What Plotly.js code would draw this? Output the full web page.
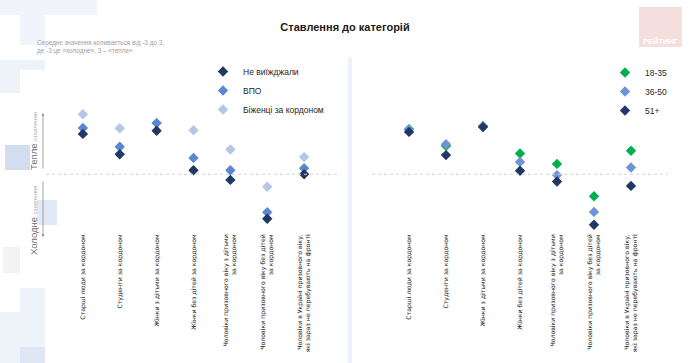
<!DOCTYPE html>
<html>
<head>
<meta charset="utf-8">
<script src="https://cdn.plot.ly/plotly-3.0.1.min.js"></script>
<style>html,body{margin:0;padding:0;background:#fff;}#chart{width:690px;height:363px;}</style>
</head>
<body>
<div id="chart"></div>
<script>
// ---- data ----
const categories = [
  "Старші люди за кордоном",
  "Студенти за кордоном",
  "Жінки з дітьми за кордоном",
  "Жінки без дітей за кордоном",
  "Чоловіки призовного віку з дітьми<br>за кордоном",
  "Чоловіки призовного віку без дітей<br>за кордоном",
  "Чоловіки в Україні призовного віку,<br>які зараз не перебувають на фронті"
];
const notLeft   = [1.01, 0.50, 1.09, 0.10, -0.14, -1.11, 0.00];
const idp       = [1.16, 0.69, 1.28, 0.41, 0.10, -0.95, 0.15];
const refugees  = [1.50, 1.15, 1.28, 1.10, 0.62, -0.31, 0.43];
const age18_35  = [1.13, 0.71, 1.20, 0.52, 0.26, -0.55, 0.59];
const age36_50  = [1.12, 0.75, 1.20, 0.31, -0.02, -0.94, 0.17];
const age51     = [1.06, 0.48, 1.18, 0.09, -0.18, -1.26, -0.29];
const idx = categories.map((_, i) => i);

// ---- geometry helpers (pixel -> paper) ----
const W = 690, H = 363, T = 62, B = 131, PH = H - T - B;
const px = x => x / W;
const py = y => (H - B - y) / PH;

const mk = (c) => ({symbol: 'diamond', size: 8, color: c});
const traces = [
  {x: idx, y: refugees, name: 'Біженці за кордоном', type: 'scatter', mode: 'markers', marker: mk('#b4c7e7'), xaxis: 'x', yaxis: 'y', legend: 'legend', legendrank: 3},
  {x: idx, y: idp, name: 'ВПО', type: 'scatter', mode: 'markers', marker: mk('#5b87d2'), xaxis: 'x', yaxis: 'y', legend: 'legend', legendrank: 2},
  {x: idx, y: notLeft, name: 'Не виїжджали', type: 'scatter', mode: 'markers', marker: mk('#1f3864'), xaxis: 'x', yaxis: 'y', legend: 'legend', legendrank: 1},
  {x: idx, y: age18_35, name: '18-35', type: 'scatter', mode: 'markers', marker: mk('#00b050'), xaxis: 'x2', yaxis: 'y2', legend: 'legend2', legendrank: 1},
  {x: idx, y: age36_50, name: '36-50', type: 'scatter', mode: 'markers', marker: mk('#6e94d8'), xaxis: 'x2', yaxis: 'y2', legend: 'legend2', legendrank: 2},
  {x: idx, y: age51, name: '51+', type: 'scatter', mode: 'markers', marker: mk('#1f3864'), xaxis: 'x2', yaxis: 'y2', legend: 'legend2', legendrank: 3}
];

const yRange = [-(H - B - 174.3) / 40, (174.3 - T) / 40];
const xaxisBase = {
  range: [-1, 7], tickmode: 'array', tickvals: idx, ticktext: categories,
  tickangle: -90, showgrid: false, zeroline: false, showline: false, ticks: '',
  tickfont: {family: 'DejaVu Sans, sans-serif', size: 6.2, color: '#222'}, fixedrange: true
};
const yaxisBase = {range: yRange, showgrid: false, zeroline: false, showline: false, showticklabels: false, ticks: '', fixedrange: true};

const rect = (x0, y0, x1, y1, c) => ({type: 'rect', xref: 'paper', yref: 'paper', x0: px(x0), x1: px(x1), y0: py(y1), y1: py(y0), fillcolor: c, line: {width: 0}, layer: 'below'});

const shapes = [
  rect(0, 0, 97, 15, '#f1f4fa'),
  rect(20, 15, 45, 45, '#f1f4fa'),
  rect(0, 60, 45, 70, '#eef2f9'),
  rect(0, 70, 20, 93, '#eef2f9'),
  rect(5, 145, 30, 170, '#d3ddf0'),
  rect(37, 200, 57, 225, '#e2e8f5'),
  rect(3, 247, 20, 273, '#f3f3f3'),
  rect(20, 288, 45, 347, '#eef2f9'),
  rect(0, 312, 20, 363, '#eef2f9'),
  rect(20, 347, 45, 363, '#dfe6f4'),
  rect(348, 57, 352, 363, '#edf1f9'),
  rect(639, 7, 682, 47, '#f4dede'),
  {type: 'line', xref: 'x domain', yref: 'y', x0: 0, x1: 1, y0: 0, y1: 0, line: {color: '#d0d0d0', width: 1, dash: 'dot'}},
  {type: 'line', xref: 'x2 domain', yref: 'y2', x0: 0, x1: 1, y0: 0, y1: 0, line: {color: '#d0d0d0', width: 1, dash: 'dot'}}
];

const annotations = [
  {xref: 'paper', yref: 'paper', x: px(35), y: py(46.5), xanchor: 'left', yanchor: 'middle', align: 'left', showarrow: false,
   text: 'Середнє значення коливається від -3 до 3,<br>де -3 це «холодне», 3 – «тепле»',
   font: {family: 'Liberation Sans, Arial, sans-serif', size: 6.4, color: '#a0a0a0'}},
  {xref: 'paper', yref: 'paper', x: px(660.5), y: py(41), xanchor: 'center', yanchor: 'middle', showarrow: false,
   text: '<b>РЕЙТИНГ</b>', font: {family: 'Liberation Sans, Arial, sans-serif', size: 7.5, color: '#ffffff'}},
  // axis arrows
  {xref: 'paper', yref: 'paper', x: px(43), y: py(113), ax: px(43), ay: py(170), axref: 'paper', ayref: 'paper', text: '', showarrow: true,
   arrowhead: 2, arrowsize: 0.7, arrowwidth: 0.8, arrowcolor: '#8c8c8c', standoff: 0},
  {xref: 'paper', yref: 'paper', x: px(43), y: py(237), ax: px(43), ay: py(180), axref: 'paper', ayref: 'paper', text: '', showarrow: true,
   arrowhead: 2, arrowsize: 0.7, arrowwidth: 0.8, arrowcolor: '#8c8c8c', standoff: 0},
  {xref: 'paper', yref: 'paper', x: px(33), y: py(141), xanchor: 'center', yanchor: 'middle', textangle: -90, showarrow: false,
   text: 'Тепле <span style="font-size:6px;color:#b0b0b0">ставлення</span>',
   font: {family: 'Liberation Sans, Arial, sans-serif', size: 9.5, color: '#707070'}},
  {xref: 'paper', yref: 'paper', x: px(33), y: py(220), xanchor: 'center', yanchor: 'middle', textangle: -90, showarrow: false,
   text: 'Холодне <span style="font-size:6px;color:#b0b0b0">ставлення</span>',
   font: {family: 'Liberation Sans, Arial, sans-serif', size: 9.5, color: '#707070'}}
];

const legendFont = {family: 'Liberation Sans, Arial, sans-serif', size: 8.5, color: '#262626'};
const layout = {
  width: W, height: H,
  margin: {l: 0, r: 0, t: T, b: B, pad: 0},
  paper_bgcolor: '#ffffff', plot_bgcolor: 'rgba(0,0,0,0)',
  title: {text: '<b>Ставлення до категорій</b>', x: 0.5, xanchor: 'center', y: 1 - 27 / H, yanchor: 'middle', yref: 'container',
          font: {family: 'Liberation Sans, Arial, sans-serif', size: 11, color: '#1a1a1a'}},
  xaxis: Object.assign({}, xaxisBase, {domain: [px(46), px(341)], anchor: 'y'}),
  yaxis: Object.assign({}, yaxisBase, {anchor: 'x'}),
  xaxis2: Object.assign({}, xaxisBase, {domain: [px(372), px(668)], anchor: 'y2'}),
  yaxis2: Object.assign({}, yaxisBase, {anchor: 'x2'}),
  legend: {x: px(203), y: py(57), xanchor: 'left', yanchor: 'top', bgcolor: 'rgba(0,0,0,0)', font: legendFont, traceorder: 'normal', itemwidth: 30},
  legend2: {x: px(605), y: py(58), xanchor: 'left', yanchor: 'top', bgcolor: 'rgba(0,0,0,0)', font: legendFont, traceorder: 'normal', itemwidth: 30},
  showlegend: true,
  shapes: shapes,
  annotations: annotations
};

Plotly.newPlot('chart', traces, layout, {displayModeBar: false, staticPlot: true});
</script>
</body>
</html>
